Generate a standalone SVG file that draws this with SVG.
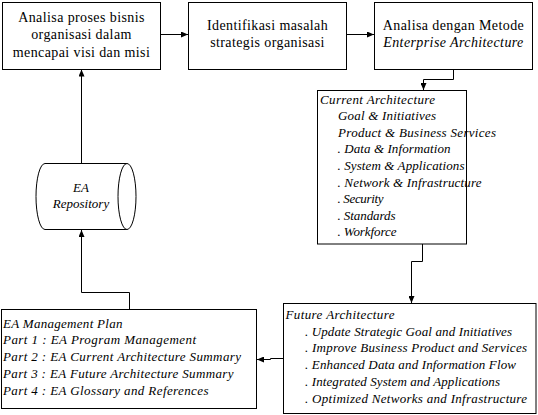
<svg xmlns="http://www.w3.org/2000/svg" width="538" height="415" viewBox="0 0 538 415">
<style>
.box{fill:#fff;stroke:#000;stroke-width:1}
.ln{fill:none;stroke:#000;stroke-width:1}
.t{font-family:"Liberation Serif","Times New Roman",serif;font-size:14px;fill:#000;letter-spacing:0.4px}
.c{text-anchor:middle}
.i{font-family:"Liberation Serif","Times New Roman",serif;font-size:13px;font-style:italic;fill:#000}
</style>
<defs>
<marker id="ah" markerWidth="7" markerHeight="6" refX="7" refY="3" orient="auto" markerUnits="userSpaceOnUse">
<path d="M0,0 L7,3 L0,6 Z" fill="#000"/>
</marker>
</defs>
<rect width="538" height="415" fill="#fff"/>
<g id="connectors">
<path class="ln" d="M160.5,34.5 L188,34.5" marker-end="url(#ah)"/>
<path class="ln" d="M346.5,34.5 L374,34.5" marker-end="url(#ah)"/>
<path class="ln" d="M453.5,69.5 L453.5,79.5 L423.5,79.5 L423.5,90" marker-end="url(#ah)"/>
<path class="ln" d="M422.5,244 L422.5,261.5 L411.5,261.5 L411.5,303" marker-end="url(#ah)"/>
<path class="ln" d="M283,358.5 L270.5,358.5 L270.5,359.5 L257,359.5" marker-end="url(#ah)"/>
<path class="ln" d="M129.5,309 L129.5,292.5 L81.5,292.5 L81.5,230" marker-end="url(#ah)"/>
<path class="ln" d="M81.5,163 L81.5,69.5" marker-end="url(#ah)"/>
</g>
<g id="node-analisa-proses">
<rect class="box" x="2.5" y="2.5" width="158" height="67"/>
<text class="t c" x="81.5" y="21.5">Analisa proses bisnis</text>
<text class="t c" x="81.5" y="39">organisasi dalam</text>
<text class="t c" x="81.5" y="56.5">mencapai visi dan misi</text>
</g>
<g id="node-identifikasi">
<rect class="box" x="188.5" y="2.5" width="158" height="67"/>
<text class="t c" x="267.5" y="30">Identifikasi masalah</text>
<text class="t c" x="267.5" y="47">strategis organisasi</text>
</g>
<g id="node-analisa-ea">
<rect class="box" x="374.5" y="2.5" width="158" height="67"/>
<text class="t c" x="453.5" y="29.5">Analisa dengan Metode</text>
<text class="t c" x="453.5" y="46.5" font-style="italic">Enterprise Architecture</text>
</g>
<g id="node-current">
<rect class="box" x="317.5" y="90.5" width="149" height="153.5"/>
<text class="i" x="320" y="103.5" textLength="115" lengthAdjust="spacing">Current Architecture</text>
<text class="i" x="338" y="120.1" textLength="98" lengthAdjust="spacing">Goal &amp; Initiatives</text>
<text class="i" x="338" y="136.7" textLength="158" lengthAdjust="spacing">Product &amp; Business Services</text>
<text class="i" x="337.5" y="153.3" textLength="113" lengthAdjust="spacing">. Data &amp; Information</text>
<text class="i" x="337.5" y="169.9" textLength="127" lengthAdjust="spacing">. System &amp; Applications</text>
<text class="i" x="337.5" y="186.5" textLength="144" lengthAdjust="spacing">. Network &amp; Infrastructure</text>
<text class="i" x="337.5" y="203.1" textLength="46" lengthAdjust="spacing">. Security</text>
<text class="i" x="337.5" y="219.7" textLength="58" lengthAdjust="spacing">. Standards</text>
<text class="i" x="337.5" y="236.3" textLength="59" lengthAdjust="spacing">. Workforce</text>
</g>
<g id="node-future">
<rect class="box" x="283.5" y="303.5" width="252.5" height="110"/>
<text class="i" x="285.5" y="319" textLength="109" lengthAdjust="spacing">Future Architecture</text>
<text class="i" x="305" y="335.7" textLength="207" lengthAdjust="spacing">. Update Strategic Goal and Initiatives</text>
<text class="i" x="305" y="352.4" textLength="222" lengthAdjust="spacing">. Improve Business Product  and Services</text>
<text class="i" x="305" y="369.1" textLength="211" lengthAdjust="spacing">. Enhanced Data and Information Flow</text>
<text class="i" x="305" y="385.8" textLength="195" lengthAdjust="spacing">. Integrated System and Applications</text>
<text class="i" x="305" y="402.5" textLength="222" lengthAdjust="spacing">. Optimized Networks and Infrastructure</text>
</g>
<g id="node-ea-plan">
<rect class="box" x="1.5" y="309.5" width="255" height="99"/>
<text class="i" x="3" y="327.5" textLength="119.5" lengthAdjust="spacing">EA Management Plan</text>
<text class="i" x="3" y="344.4" textLength="193" lengthAdjust="spacing">Part 1 : EA Program Management</text>
<text class="i" x="3" y="361.3" textLength="238" lengthAdjust="spacing">Part 2 : EA Current Architecture Summary</text>
<text class="i" x="3" y="378.2" textLength="230.5" lengthAdjust="spacing">Part 3 : EA Future Architecture Summary</text>
<text class="i" x="3" y="395.1" textLength="205.5" lengthAdjust="spacing">Part 4 : EA Glossary and References</text>
</g>
<g id="node-repository">
<path class="box" d="M45,163.5 L127,163.5 L127,229.5 L45,229.5 A9,33 0 0 1 45,163.5 Z"/>
<ellipse class="box" cx="127" cy="196.5" rx="9" ry="33"/>
<text class="i c" x="81" y="192">EA</text>
<text class="i c" x="81" y="208">Repository</text>
</g>
</svg>
